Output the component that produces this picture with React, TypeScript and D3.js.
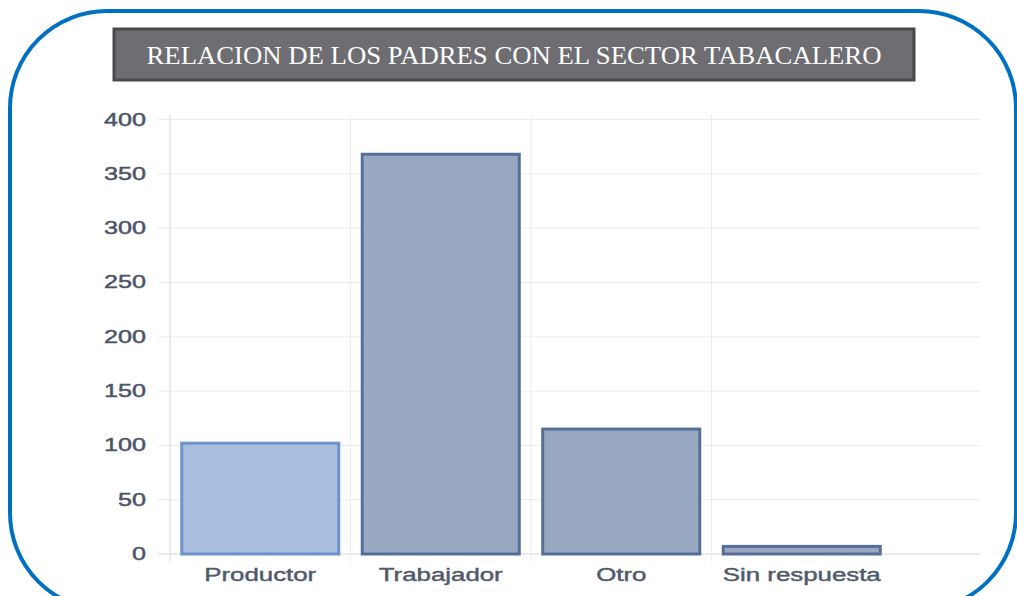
import React from "react";
import * as d3 from "d3";

const categories = ["Productor", "Trabajador", "Otro", "Sin respuesta"];
const values = [102, 368, 115, 7];
const yTicks = [0, 50, 100, 150, 200, 250, 300, 350, 400];
const title = "RELACION DE LOS PADRES CON EL SECTOR TABACALERO";

const W = 1017;
const H = 596;
const plotLeft = 170;
const plotRight = 980;
const bandStep = 180.5;
const yTop = 119.5;
const yBottom = 554;

export default function App() {
  const x = d3
    .scaleBand<string>()
    .domain(categories)
    .range([plotLeft, plotLeft + bandStep * categories.length])
    .paddingInner(0.13)
    .paddingOuter(0.065);
  const y = d3.scaleLinear().domain([0, 400]).range([yBottom, yTop]);
  const bounds = categories.map((_, i) => plotLeft + i * bandStep);
  const stretch = 1.4;

  return (
    <svg
      width={W}
      height={H}
      style={{ position: "absolute", left: 0, top: 0, background: "#fff" }}
    >
      <rect x={10} y={11} width={1006} height={599} rx={97} ry={97} fill="#fff" stroke="#0070c0" strokeWidth={4} />

      <rect x={114} y={29} width={800} height={51} fill="#6d6d72" stroke="#4a4a4d" strokeWidth={3} />
      <text
        x={514}
        y={64}
        textAnchor="middle"
        fill="#ffffff"
        fontFamily="'Liberation Serif', 'DejaVu Serif', serif"
        fontSize={25}
        textLength={735}
        lengthAdjust="spacingAndGlyphs"
      >
        {title}
      </text>

      {yTicks.map((t) => (
        <g key={t}>
          <line x1={158} x2={plotRight} y1={y(t)} y2={y(t)} stroke={t === 0 ? "#d8d8d8" : "#ececec"} strokeWidth={1} />
          <text
            transform={`translate(146, ${y(t) + 6}) scale(${stretch},1)`}
            textAnchor="end"
            fill="#4b5568"
            stroke="#4b5568"
            strokeWidth={0.45}
            fontFamily="'Liberation Sans', Arial, sans-serif"
            fontSize={18}
          >
            {t}
          </text>
        </g>
      ))}

      {bounds.map((b, i) => (
        <line key={i} x1={b} x2={b} y1={115} y2={561} stroke={i === 0 ? "#d8d8d8" : "#ececec"} strokeWidth={1} />
      ))}

      {categories.map((c, i) => {
        const first = i === 0;
        return (
          <rect
            key={c}
            x={x(c)!}
            y={y(values[i])}
            width={x.bandwidth()}
            height={y(0) - y(values[i])}
            fill={first ? "#a9bedf" : "#98a8c1"}
            stroke={first ? "#6d93cc" : "#566f9a"}
            strokeWidth={3}
          />
        );
      })}

      {categories.map((c) => (
        <text
          key={c}
          transform={`translate(${x(c)! + x.bandwidth() / 2}, ${581}) scale(1.36,1)`}
          textAnchor="middle"
          fill="#515a6b"
          stroke="#515a6b"
          strokeWidth={0.45}
          fontFamily="'Liberation Sans', Arial, sans-serif"
          fontSize={19}
        >
          {c}
        </text>
      ))}
    </svg>
  );
}
